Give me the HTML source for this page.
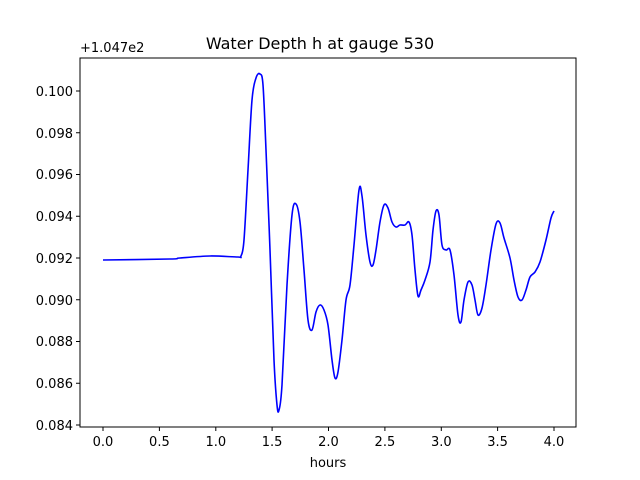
<!DOCTYPE html>
<html><head><style>body{margin:0;background:#fff}svg{display:block}text{font-family:"DejaVu Sans","Liberation Sans",sans-serif;font-size:13px;fill:#000}</style></head>
<body>
<svg width="640" height="480" viewBox="0 0 640 480">
<rect x="80" y="58" width="496" height="369" fill="#fff" stroke="#000" stroke-width="1"/>
<text x="320" y="49" text-anchor="middle" style="font-size:16px">Water Depth h at gauge 530</text>
<text x="80" y="52" style="font-size:13px">+1.047e2</text>
<g stroke="#000" stroke-width="1">
<line x1="103" y1="427" x2="103" y2="431"/><line x1="159.4" y1="427" x2="159.4" y2="431"/><line x1="215.8" y1="427" x2="215.8" y2="431"/><line x1="272.1" y1="427" x2="272.1" y2="431"/><line x1="328.5" y1="427" x2="328.5" y2="431"/><line x1="384.9" y1="427" x2="384.9" y2="431"/><line x1="441.3" y1="427" x2="441.3" y2="431"/><line x1="497.6" y1="427" x2="497.6" y2="431"/><line x1="554" y1="427" x2="554" y2="431"/>
<line x1="76" y1="425" x2="80" y2="425"/><line x1="76" y1="383.25" x2="80" y2="383.25"/><line x1="76" y1="341.5" x2="80" y2="341.5"/><line x1="76" y1="299.75" x2="80" y2="299.75"/><line x1="76" y1="258" x2="80" y2="258"/><line x1="76" y1="216.25" x2="80" y2="216.25"/><line x1="76" y1="174.5" x2="80" y2="174.5"/><line x1="76" y1="132.75" x2="80" y2="132.75"/><line x1="76" y1="91" x2="80" y2="91"/>
</g>
<g text-anchor="middle">
<text x="103" y="446">0.0</text><text x="159.4" y="446">0.5</text><text x="215.8" y="446">1.0</text><text x="272.1" y="446">1.5</text><text x="328.5" y="446">2.0</text><text x="384.9" y="446">2.5</text><text x="441.3" y="446">3.0</text><text x="497.6" y="446">3.5</text><text x="554" y="446">4.0</text>
<text x="328" y="467">hours</text>
</g>
<g text-anchor="end">
<text x="73" y="430">0.084</text><text x="73" y="388">0.086</text><text x="73" y="346">0.088</text><text x="73" y="305">0.090</text><text x="73" y="263">0.092</text><text x="73" y="221">0.094</text><text x="73" y="179">0.096</text><text x="73" y="138">0.098</text><text x="73" y="96">0.100</text>
</g>
<path id="c" fill="none" stroke="#0000ff" stroke-width="1.6" stroke-linejoin="round" d="M103,260 L554,211"/>
</svg>
<script>
var p=[[103,260],[170,259],[180,258],[210,256],[238,257],[241,256],[244,240],[248,170],[252,100],[256,78],[260,74],[263,85],[266,150],[270,250],[274,360],[277,405],[279,410],[282,385],[287,285],[292,215],[296,204],[300,222],[304,270],[308,320],[312,330],[316,312],[320,305],[324,310],[328,325],[332,360],[335,378],[338,372],[342,340],[346,300],[350,285],[354,245],[359,190],[362,196],[366,235],[370,262],[373,265],[376,250],[380,222],[384,205],[388,208],[392,222],[396,227],[400,225],[405,225],[409,222],[412,235],[415,270],[418,296],[421,290],[425,280],[430,262],[433,230],[436,211],[439,215],[442,245],[446,250],[450,250],[454,275],[458,315],[461,322],[464,300],[468,282],[472,285],[475,300],[478,315],[482,308],[486,285],[491,250],[496,224],[500,223],[504,238],[510,258],[514,280],[518,297],[522,300],[526,290],[530,277],[535,272],[540,262],[546,240],[551,218],[554,211]];
var d="M"+p[0][0]+","+p[0][1];
for(var i=0;i<p.length-1;i++){var a=p[Math.max(i-1,0)],b=p[i],c=p[i+1],e=p[Math.min(i+2,p.length-1)];
d+=" C"+(b[0]+(c[0]-a[0])/6)+","+(b[1]+(c[1]-a[1])/6)+" "+(c[0]-(e[0]-b[0])/6)+","+(c[1]-(e[1]-b[1])/6)+" "+c[0]+","+c[1];}
document.getElementById("c").setAttribute("d",d);
</script>
</body></html>
